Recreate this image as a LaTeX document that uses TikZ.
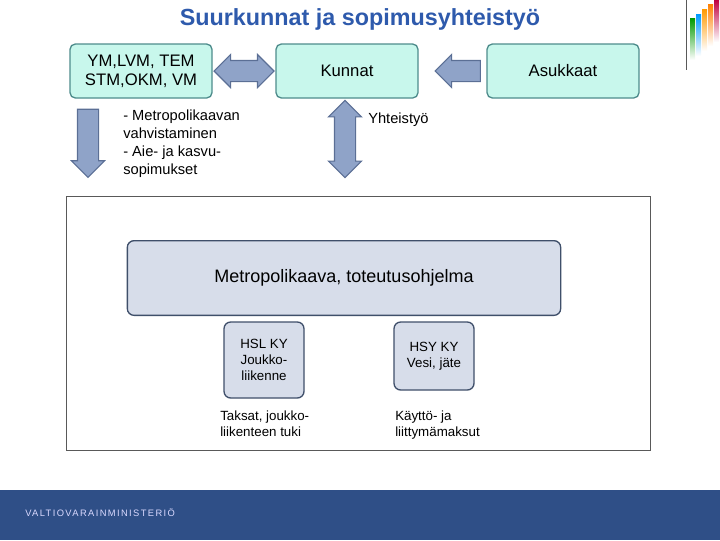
\documentclass[tikz,border=0pt]{standalone}
\usepackage{fontspec}
\setmainfont{Liberation Sans}
\usetikzlibrary{shapes.arrows,positioning}
\definecolor{boxfill}{HTML}{C8F7EC}
\definecolor{boxline}{HTML}{4E8C8C}
\definecolor{kaavafill}{HTML}{D7DDEA}
\definecolor{kaavaline}{HTML}{3F4F6A}
\definecolor{arrfill}{HTML}{8FA3C8}
\definecolor{arrline}{HTML}{5B6F95}
\definecolor{titleblue}{HTML}{2E5AAC}
\definecolor{footblue}{HTML}{2F4F87}
\tikzset{
  topbox/.style={draw=boxline,fill=boxfill,rounded corners=4pt,line width=1pt,minimum width=106.5pt,minimum height=40.5pt,font=\fontsize{12.5}{14.5}\selectfont,align=center},
  kybox/.style={draw=kaavaline,fill=kaavafill,rounded corners=5pt,line width=1pt,align=center,font=\fontsize{10}{12}\selectfont},
  fatarrow/.style={draw=arrline,fill=arrfill,line width=0.8pt,minimum height=#1,inner sep=7.5pt,single arrow head extend=4.5pt,double arrow head extend=4.5pt},
  note/.style={align=left,anchor=north west,inner sep=0pt,font=\fontsize{11}{13.5}\selectfont}
}
\begin{document}
\begin{tikzpicture}[x=0.75pt,y=-0.75pt]
\useasboundingbox (0,0) rectangle (720,540);
% otsikko ja logo
\node (title) at (360,19) {\fontsize{17.5}{20}\selectfont\bfseries\color{titleblue}Suurkunnat ja sopimusyhteistyö};
\draw[gray!70!black,line width=0.5pt] (686,0) -- (686,70);
\foreach \x/\h/\c in {690/18/green!60!black,696/14/cyan!60!blue,702/9/orange!80!yellow,708/4/orange,714/0/purple}
  \shade[top color=\c,bottom color=white] (\x,\h) rectangle (\x+5,\h+42);
% ylarivi
\node[topbox] (ym) at (141,71) {YM,LVM, TEM\\STM,OKM, VM};
\node[topbox] (kunnat) at (347,71) {Kunnat};
\node[topbox,minimum width=114pt] (asukkaat) at (563,71) {Asukkaat};
\node[double arrow,fatarrow=45pt] (a1) at (244,71) {};
\node[single arrow,fatarrow=34pt,shape border rotate=180] (a2) at (463,71) {};
\node[single arrow,fatarrow=51pt,shape border rotate=270] (a3) at (88,138) {};
\node[double arrow,fatarrow=58pt,shape border rotate=90] (a4) at (345,139) {};
\node[note] (n1) at (123,110) {- Metropolikaavan\\vahvistaminen\\- Aie- ja kasvu-\\sopimukset};
\node[note] (n2) at (368,113) {Yhteistyö};
% alue
\draw[gray!70!black,line width=0.6pt] (66,196) rectangle (650,450);
\node[kybox,minimum width=325pt,minimum height=56pt,font=\fontsize{13.5}{16}\selectfont] (kaava) at (344,278) {Metropolikaava, toteutusohjelma};
\node[kybox,minimum width=60pt,minimum height=57pt] (hsl) at (264,360) {HSL KY\\Joukko-\\liikenne};
\node[kybox,minimum width=60pt,minimum height=51pt] (hsy) at (434,356) {HSY KY\\Vesi, jäte};
\node[note,font=\fontsize{10}{12}\selectfont] (t1) at (220,411) {Taksat, joukko-\\liikenteen tuki};
\node[note,font=\fontsize{10}{12}\selectfont] (t2) at (395,411) {Käyttö- ja\\liittymämaksut};
% alapalkki
\fill[footblue] (0,490) rectangle (720,540);
\node[anchor=west,inner sep=0pt,text=white!85!blue] (vm) at (25,513) {\fontsize{7}{8}\selectfont\addfontfeature{LetterSpace=15}VALTIOVARAINMINISTERIÖ};
\end{tikzpicture}
\end{document}
